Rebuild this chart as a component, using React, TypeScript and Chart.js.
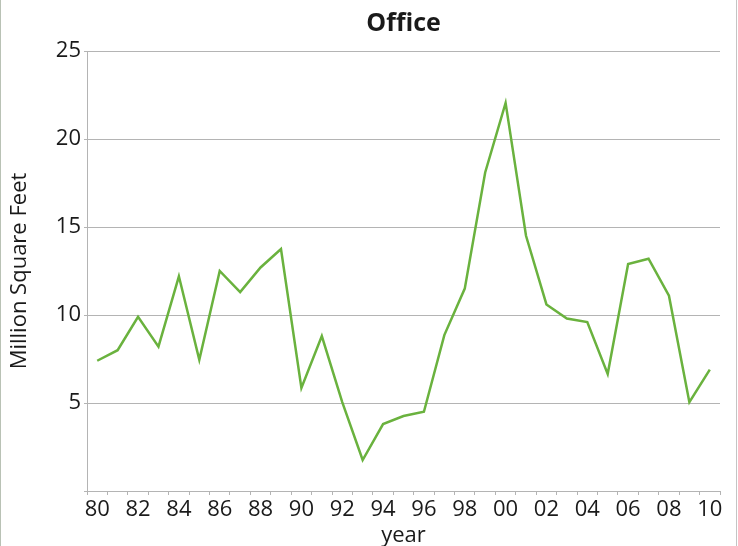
import React, { useEffect, useRef } from "react";
import { Chart, registerables } from "chart.js";

Chart.register(...registerables);

const years: string[] = [
  "80", "81", "82", "83", "84", "85", "86", "87", "88", "89",
  "90", "91", "92", "93", "94", "95", "96", "97", "98", "99",
  "00", "01", "02", "03", "04", "05", "06", "07", "08", "09", "10",
];

const officeValues: number[] = [
  7.4, 8.0, 9.9, 8.2, 12.2, 7.45, 12.5, 11.3, 12.7, 13.75,
  5.85, 8.8, 5.05, 1.76, 3.8, 4.26, 4.5, 8.86, 11.5, 18.1,
  22.05, 14.5, 10.6, 9.8, 9.6, 6.65, 12.9, 13.2, 11.1, 5.05, 6.9,
];

const yTicks: number[] = [0, 5, 10, 15, 20, 25];

const FONT = "'Open Sans', 'DejaVu Sans', sans-serif";

export default function App() {
  const ref = useRef<HTMLCanvasElement | null>(null);

  useEffect(() => {
    if (!ref.current) return;
    const chart = new Chart(ref.current, {
      type: "line",
      data: {
        labels: years,
        datasets: [
          {
            label: "Office",
            data: officeValues,
            borderColor: "#6ab23e",
            backgroundColor: "#6ab23e",
            borderWidth: 2.5,
            pointRadius: 0,
            tension: 0,
            fill: false,
          },
        ],
      },
      options: {
        responsive: false,
        animation: false,
        layout: { padding: { left: 0, right: 18, top: 0, bottom: 0 } },
        plugins: {
          legend: { display: false },
          tooltip: { enabled: false },
          title: {
            display: true,
            fullSize: false,
            text: "Office",
            color: "#1a1a1a",
            font: { family: FONT, size: 25, weight: "bold", lineHeight: 1.2 },
            padding: { top: 9, bottom: 12 },
          },
        },
        scales: {
          x: {
            type: "category",
            offset: true,
            grid: {
              display: true,
              offset: true,
              drawOnChartArea: false,
              drawTicks: true,
              tickLength: 4,
              color: "#b4b4b4",
              lineWidth: 1,
            },
            border: { display: true, color: "#b4b4b4", width: 1 },
            ticks: {
              autoSkip: false,
              maxRotation: 0,
              minRotation: 0,
              padding: 2,
              color: "#1a1a1a",
              font: { family: FONT, size: 22 },
              callback: (_v: any, i: number) => (i % 2 === 0 ? years[i] : ""),
            },
            title: {
              display: true,
              text: "year",
              color: "#1a1a1a",
              font: { family: FONT, size: 22, lineHeight: 0.9 },
              padding: { top: 0, bottom: 0 },
            },
            afterFit: (scale: any) => {
              scale.height = 55;
            },
          },
          y: {
            min: 0,
            max: 25,
            afterBuildTicks: (scale: any) => {
              scale.ticks = yTicks.map((v) => ({ value: v }));
            },
            grid: {
              color: "#b4b4b4",
              lineWidth: 1,
              drawTicks: true,
              tickLength: 3,
            },
            border: { display: true, color: "#b4b4b4", width: 1 },
            ticks: {
              padding: 3,
              color: "#1a1a1a",
              font: { family: FONT, size: 22 },
              callback: (v: any) => (v === 0 ? "" : String(v)),
            },
            title: {
              display: true,
              text: "Million Square Feet",
              color: "#1a1a1a",
              font: { family: FONT, size: 22, lineHeight: 0.9 },
              padding: { top: 10, bottom: 0 },
            },
            afterFit: (scale: any) => {
              scale.width = 87;
            },
          },
        },
      },
    });
    return () => chart.destroy();
  }, []);

  return (
    <div style={{ position: "fixed", left: 0, top: 0, width: 738, height: 546, background: "#fff" }}>
      <canvas ref={ref} width={738} height={546} style={{ display: "block", width: 738, height: 546 }} />
      <div style={{ position: "absolute", left: 0, top: 0, width: 1, height: 546, background: "#b9c2b5" }} />
      <div style={{ position: "absolute", left: 736, top: 0, width: 1, height: 546, background: "#c4c4c4" }} />
    </div>
  );
}
